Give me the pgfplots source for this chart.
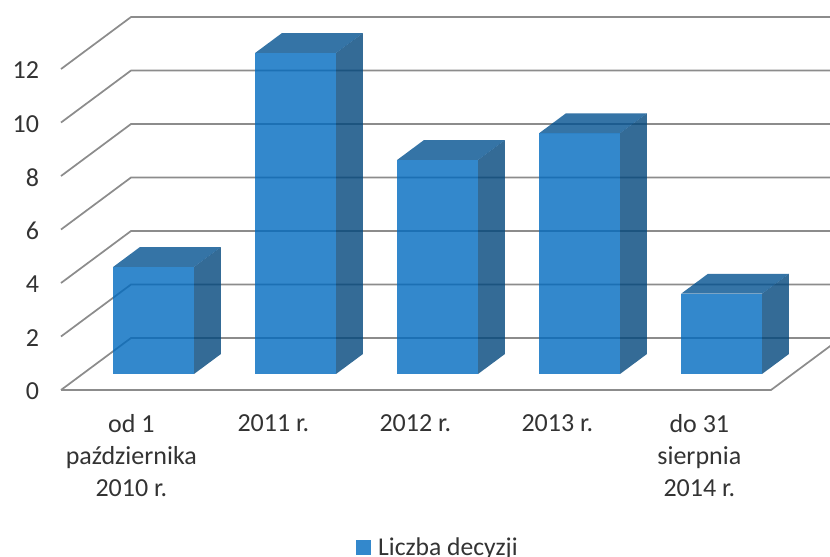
\documentclass[border=0pt]{standalone}
\usepackage{fontspec}
\setmainfont{Carlito}
\usepackage{pgfplots}
\pgfplotsset{compat=1.18}
\definecolor{gridc}{HTML}{8C8C8C}
\definecolor{txt}{HTML}{333333}
\definecolor{frontc}{RGB}{0,106,191}
\definecolor{sidec}{RGB}{1,70,124}
\definecolor{topc}{RGB}{2,81,144}
\definecolor{legc}{RGB}{51,136,204}
\pgfplotsset{
  gl/.style={draw=gridc, line width=1.3pt, mark=none, forget plot},
  ff/.style={fill=frontc, fill opacity=0.8, draw=none, mark=none, forget plot},
  sf/.style={fill=sidec, fill opacity=0.8, draw=none, mark=none, forget plot},
  tf/.style={fill=topc, fill opacity=0.8, draw=none, mark=none, forget plot},
}
\begin{document}
\begin{tikzpicture}
\path[use as bounding box] (0,0) rectangle (622.5pt,417pt);
\clip (0,0) rectangle (622.5pt,417pt);
\begin{axis}[
  at={(99pt,124.5pt)}, anchor=origin,
  x={(106.5pt,0pt)}, y={(52.5pt,39pt)}, z={(0pt,20.06pt)},
  xmin=-0.5, xmax=4.5, ymin=0, ymax=1, zmin=0, zmax=12,
  clip=false,
  axis line style={draw=none},
  tick style={draw=none},
  xtick={0,1,2,3,4}, ytick=\empty, ztick={0,2,4,6,8,10,12},
  xticklabels={{od 1\\października\\2010 r.},{2011 r.},{2012 r.},{2013 r.},{do 31\\sierpnia\\2014 r.}},
  xticklabel style={anchor=north, xshift=-0.5pt, yshift=-15pt, align=center, font=\fontsize{19.5}{24}\selectfont, text=txt},
  zticklabel style={anchor=east, xshift=-13pt, yshift=-1pt, font=\fontsize{19.5}{24}\selectfont, text=txt},
  /pgf/number format/assume math mode=true,
  legend style={at={(axis cs:1.55,0,-5.89)}, anchor=west, draw=none, fill=none,
    font=\fontsize{19.2}{24}\selectfont, text=txt},
  legend image code/.code={\fill[legc] (0cm,-0.18cm) rectangle (0.36cm,0.18cm); \path (0.49cm,0cm);},
]
% siatka
\addplot3[gl] coordinates {(-0.5,0,0) (4.5,0,0) (4.5,1,0) (-0.5,1,0) (-0.5,0,0)};
\addplot3[gl] coordinates {(-0.5,0,2) (-0.5,1,2) (4.5,1,2)};
\addplot3[gl] coordinates {(-0.5,0,4) (-0.5,1,4) (4.5,1,4)};
\addplot3[gl] coordinates {(-0.5,0,6) (-0.5,1,6) (4.5,1,6)};
\addplot3[gl] coordinates {(-0.5,0,8) (-0.5,1,8) (4.5,1,8)};
\addplot3[gl] coordinates {(-0.5,0,10) (-0.5,1,10) (4.5,1,10)};
\addplot3[gl] coordinates {(-0.5,0,12) (-0.5,1,12) (4.5,1,12)};
% od 1 pazdziernika 2010: 4
\addplot3[ff] coordinates {(-0.285,0.31,0) (0.285,0.31,0) (0.285,0.31,4) (-0.285,0.31,4)};
\addplot3[sf] coordinates {(0.285,0.31,0) (0.285,0.69,0) (0.285,0.69,4) (0.285,0.31,4)};
\addplot3[tf] coordinates {(-0.285,0.31,4) (0.285,0.31,4) (0.285,0.69,4) (-0.285,0.69,4)};
% 2011: 12
\addplot3[ff] coordinates {(0.715,0.31,0) (1.285,0.31,0) (1.285,0.31,12) (0.715,0.31,12)};
\addplot3[sf] coordinates {(1.285,0.31,0) (1.285,0.69,0) (1.285,0.69,12) (1.285,0.31,12)};
\addplot3[tf] coordinates {(0.715,0.31,12) (1.285,0.31,12) (1.285,0.69,12) (0.715,0.69,12)};
% 2012: 8
\addplot3[ff] coordinates {(1.715,0.31,0) (2.285,0.31,0) (2.285,0.31,8) (1.715,0.31,8)};
\addplot3[sf] coordinates {(2.285,0.31,0) (2.285,0.69,0) (2.285,0.69,8) (2.285,0.31,8)};
\addplot3[tf] coordinates {(1.715,0.31,8) (2.285,0.31,8) (2.285,0.69,8) (1.715,0.69,8)};
% 2013: 9
\addplot3[ff] coordinates {(2.715,0.31,0) (3.285,0.31,0) (3.285,0.31,9) (2.715,0.31,9)};
\addplot3[sf] coordinates {(3.285,0.31,0) (3.285,0.69,0) (3.285,0.69,9) (3.285,0.31,9)};
\addplot3[tf] coordinates {(2.715,0.31,9) (3.285,0.31,9) (3.285,0.69,9) (2.715,0.69,9)};
% do 31 sierpnia 2014: 3
\addplot3[ff] coordinates {(3.715,0.31,0) (4.285,0.31,0) (4.285,0.31,3) (3.715,0.31,3)};
\addplot3[sf] coordinates {(4.285,0.31,0) (4.285,0.69,0) (4.285,0.69,3) (4.285,0.31,3)};
\addplot3[tf] coordinates {(3.715,0.31,3) (4.285,0.31,3) (4.285,0.69,3) (3.715,0.69,3)};
\addlegendimage{}
\addlegendentry{Liczba decyzji}
\end{axis}
\end{tikzpicture}
\end{document}
